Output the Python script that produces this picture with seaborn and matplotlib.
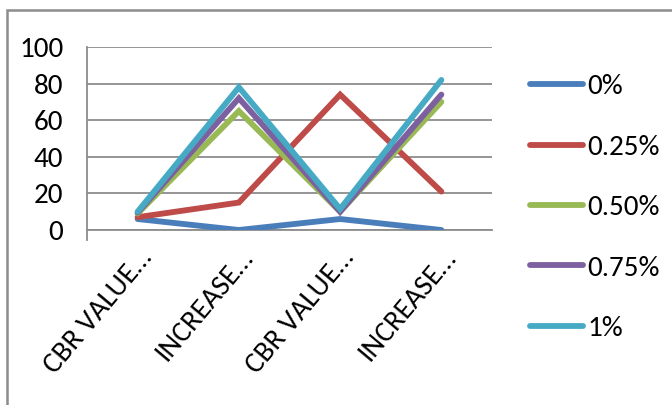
import matplotlib
matplotlib.use("Agg")
import matplotlib.pyplot as plt
import matplotlib.transforms as mtransforms
from matplotlib.patches import Rectangle
import seaborn as sns
import pandas as pd

categories = ["CBR VALUE…", "INCREASE…", "CBR VALUE…", "INCREASE…"]
series_names = ["0%", "0.25%", "0.50%", "0.75%", "1%"]
s_0 = [6, 0, 6, 0]
s_025 = [7, 15, 74, 21]
s_050 = [9, 65, 10, 70]
s_075 = [9.5, 72, 10, 74]
s_100 = [10, 78, 11.5, 82]
y_ticks = [0, 20, 40, 60, 80, 100]
colors = ["#4A7EBB", "#BE4B48", "#98B954", "#7D60A0", "#46AAC5"]

values = [s_0, s_025, s_050, s_075, s_100]
rows = []
for name, vals in zip(series_names, values):
    for i, v in enumerate(vals):
        rows.append({"pos": i, "value": v, "series": name})
df = pd.DataFrame(rows)

sns.set_style("white")
plt.rcParams["font.family"] = ["Carlito", "Archivo Narrow", "DejaVu Sans"]
plt.rcParams["text.color"] = "black"
plt.rcParams["xtick.color"] = "black"
plt.rcParams["ytick.color"] = "black"
FS = 21

fig = plt.figure(figsize=(6.72, 4.05), dpi=100)
ax = fig.add_axes([87 / 672, 1 - 230 / 405, (492 - 87) / 672, (230 - 47) / 405])

sns.lineplot(data=df, x="pos", y="value", hue="series", hue_order=series_names,
             palette=colors, linewidth=4.2, ax=ax, legend=True, zorder=3,
             solid_capstyle="round", solid_joinstyle="miter")

ax.set_xlim(-0.5, len(categories) - 0.5)
ax.set_ylim(0, 100)
ax.set_xlabel("")
ax.set_ylabel("")

grid_c = "#8C8C8C"
ax.set_yticks(y_ticks)
ax.yaxis.grid(True, color=grid_c, linewidth=1.3)
ax.set_axisbelow(True)
for side in ["top", "right"]:
    ax.spines[side].set_visible(False)
for side in ["left", "bottom"]:
    ax.spines[side].set_color(grid_c)
    ax.spines[side].set_linewidth(1.3)
ax.spines["left"].set_bounds(-5.5, 100)

ax.tick_params(axis="y", length=5, width=1.3, color=grid_c, labelsize=FS, pad=12,
               labelcolor="black")

# boundary ticks between categories, labels centred on categories
ax.set_xticks([i - 0.5 for i in range(len(categories) + 1)])
ax.set_xticklabels([])
ax.tick_params(axis="x", which="major", length=7.5, width=1.3, color=grid_c)
ax.set_xticks(range(len(categories)), minor=True)
ax.set_xticklabels(categories, minor=True, rotation=50, ha="right", va="top",
                   rotation_mode="anchor", fontsize=FS, color="black")
ax.tick_params(axis="x", which="minor", length=0, pad=11)
offset = mtransforms.ScaledTranslation(0.0, 0, fig.dpi_scale_trans)
for lbl in ax.xaxis.get_minorticklabels():
    lbl.set_transform(lbl.get_transform() + offset)

ax.legend(loc="upper left", bbox_to_anchor=(530 / 672, 1 - 74 / 405),
          bbox_transform=fig.transFigure, frameon=False, fontsize=FS,
          handlelength=1.8, handletextpad=0.17, labelspacing=1.2,
          borderaxespad=0, borderpad=0)

fig.patches.append(Rectangle((7 / 672, -0.05), 1.1, 1 - 10 / 405 + 0.05,
                             transform=fig.transFigure, fill=False,
                             edgecolor="#8C8C8C", linewidth=1.8, zorder=0))

fig.savefig("out.png", dpi=100)
